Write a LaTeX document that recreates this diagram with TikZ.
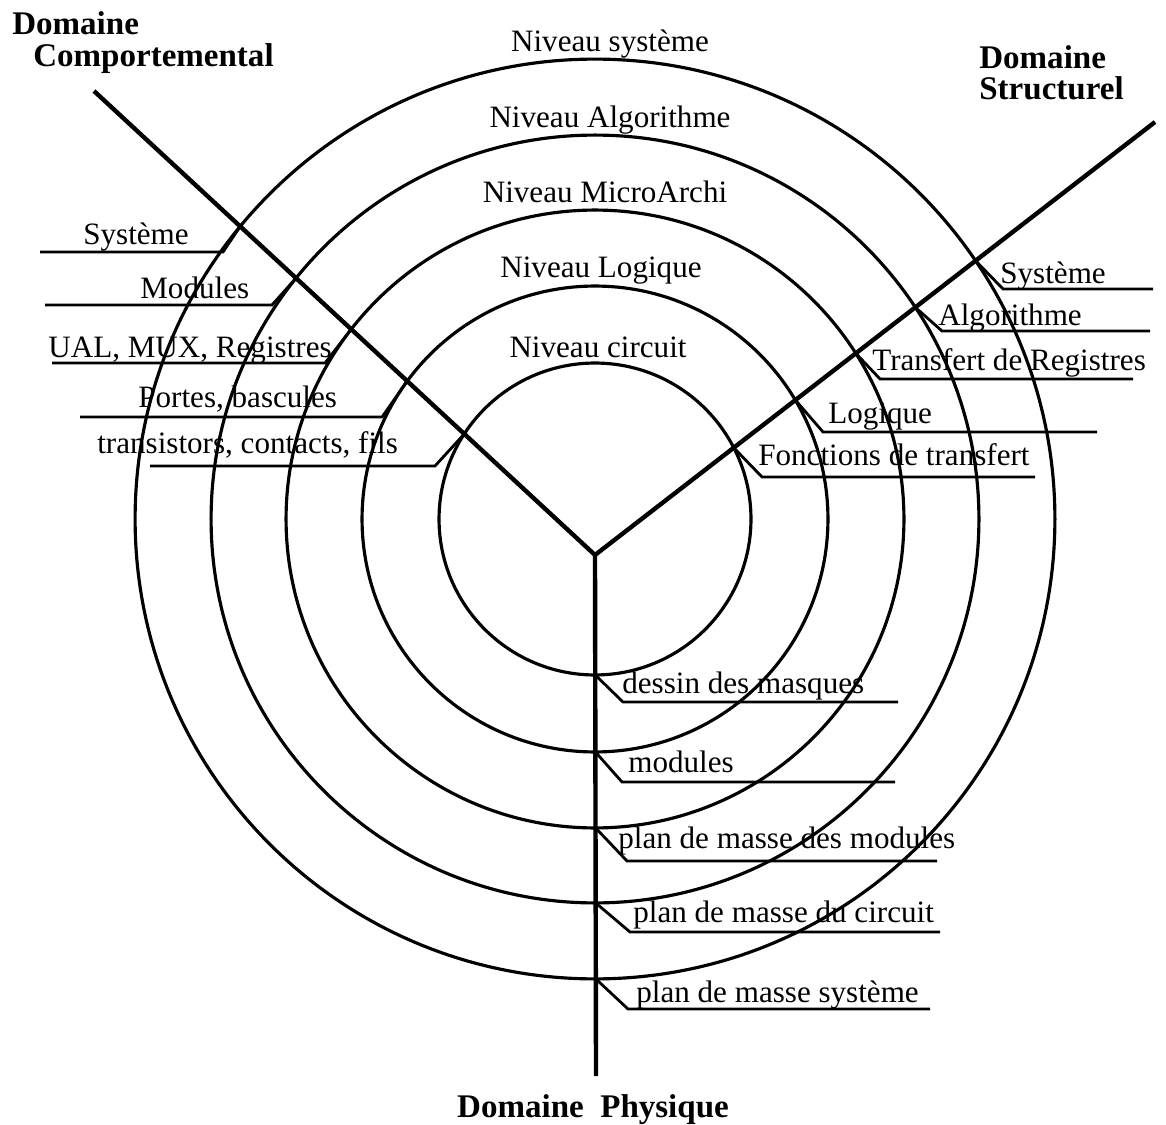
\documentclass[tikz,border=0pt]{standalone}
\usepackage{fontspec}
\setmainfont{Liberation Serif}
\usetikzlibrary{intersections}

\begin{document}
\begin{tikzpicture}[x=0.02cm,y=-0.02cm,
    cercle/.style={line width=1.8pt},
    axe/.style={line width=2.5pt,line join=miter},
    renvoi/.style={line width=1.6pt},
    niveau/.style={anchor=base,inner sep=0pt,font=\fontsize{17.7}{20}\selectfont},
    etiq/.style={anchor=base west,inner sep=0pt,font=\fontsize{17.7}{20}\selectfont},
    domaine/.style={anchor=base west,inner sep=0pt,font=\fontsize{18.8}{20}\selectfont\bfseries}]
    \useasboundingbox (0,0) rectangle (1166,1125);

    \coordinate (centre) at (595,519);
    \coordinate (noeud)  at (595,555);
    \coordinate (haut-g) at (94,91);
    \coordinate (haut-d) at (1155,122);
    \coordinate (bas)    at (596,1076);

    \draw[cercle,name path=r1] (centre) circle[radius=3.12cm];
    \draw[cercle,name path=r2] (centre) circle[radius=4.66cm];
    \draw[cercle,name path=r3] (centre) circle[radius=6.18cm];
    \draw[cercle,name path=r4] (centre) circle[radius=7.68cm];
    \draw[cercle,name path=r5] (centre) circle[radius=9.20cm];

    \draw[axe] (haut-g) -- (noeud) -- (haut-d);
    \draw[axe] (noeud) -- (bas);
    \path[name path=comp]   (noeud) -- (haut-g);
    \path[name path=struct] (noeud) -- (haut-d);
    \path[name path=phys]   (noeud) -- (bas);
    \foreach \i in {1,...,5}{
        \path[name intersections={of=comp and r\i,by=comp\i}];
        \path[name intersections={of=struct and r\i,by=struct\i}];
        \path[name intersections={of=phys and r\i,by=phys\i}];
    }

    \node[domaine] (d-comp)   at (12,35)   {Domaine};
    \node[domaine] (d-comp2)  at (33,67)   {Comportemental};
    \node[domaine] (d-struct) at (979,69)  {Domaine};
    \node[domaine] (d-struct2) at (979,100) {Structurel};
    \node[domaine,anchor=base] (d-phys) at (593,1117) {Domaine~~Physique};

    \node[niveau] (n-sys)   at (610,52)  {Niveau système};
    \node[niveau] (n-algo)  at (610,128) {Niveau Algorithme};
    \node[niveau] (n-micro) at (605,203) {Niveau MicroArchi};
    \node[niveau] (n-log)   at (601,277) {Niveau Logique};
    \node[niveau] (n-circ)  at (598,357) {Niveau circuit};

    \draw[renvoi] (comp5) -- (223,252) -- (40,252);
    \draw[renvoi] (comp4) -- (272,305) -- (45,305);
    \draw[renvoi] (comp3) -- (325,363) -- (52,363);
    \draw[renvoi] (comp2) -- (382,417) -- (80,417);
    \draw[renvoi] (comp1) -- (435,466) -- (150,466);
    \node[etiq] (c-sys)  at (83,245)  {Système};
    \node[etiq] (c-mod)  at (140,298) {Modules};
    \node[etiq] (c-ual)  at (48,357)  {UAL, MUX, Registres};
    \node[etiq] (c-port) at (138,407) {Portes, bascules};
    \node[etiq] (c-tran) at (97,453)  {transistors, contacts, fils};

    \draw[renvoi] (struct5) -- (1003,289) -- (1153,289);
    \draw[renvoi] (struct4) -- (942,331)  -- (1150,331);
    \draw[renvoi] (struct3) -- (880,379)  -- (1133,379);
    \draw[renvoi] (struct2) -- (823,432)  -- (1097,432);
    \draw[renvoi] (struct1) -- (762,477)  -- (1035,477);
    \node[etiq] (s-sys)  at (1000,283) {Système};
    \node[etiq] (s-algo) at (938,325)  {Algorithme};
    \node[etiq] (s-reg)  at (872,370)  {Transfert de Registres};
    \node[etiq] (s-log)  at (828,423)  {Logique};
    \node[etiq] (s-fct)  at (758,465)  {Fonctions de transfert};

    \draw[renvoi] (phys1) -- (623,702)  -- (898,702);
    \draw[renvoi] (phys2) -- (622,782)  -- (895,782);
    \draw[renvoi] (phys3) -- (627,861)  -- (937,861);
    \draw[renvoi] (phys4) -- (630,932)  -- (940,932);
    \draw[renvoi] (phys5) -- (628,1009) -- (930,1009);
    \node[etiq] (p-mask) at (622,693)  {dessin des masques};
    \node[etiq] (p-mod)  at (628,772)  {modules};
    \node[etiq] (p-pmm)  at (618,848)  {plan de masse des modules};
    \node[etiq] (p-pmc)  at (633,922)  {plan de masse du circuit};
    \node[etiq] (p-pms)  at (636,1002) {plan de masse système};
\end{tikzpicture}
\end{document}
